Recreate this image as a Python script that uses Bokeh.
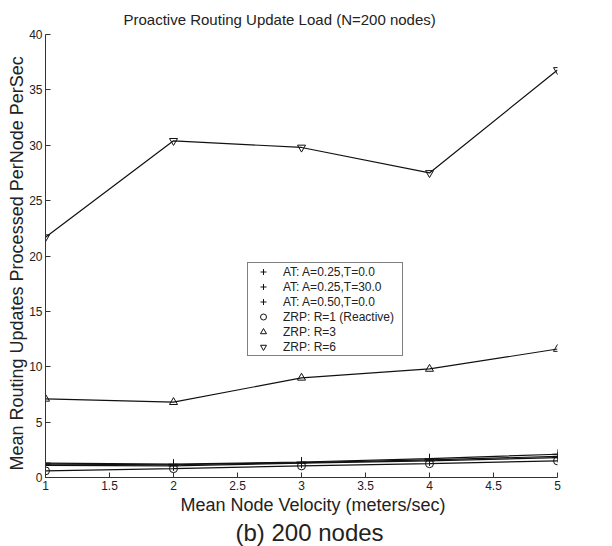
from bokeh.plotting import figure
from bokeh.models import Legend, LegendItem, Title, FixedTicker, Range1d
from bokeh.embed import file_html
from bokeh.resources import INLINE

velocity = [1, 2, 3, 4, 5]
at_025_t0 = [1.2, 1.15, 1.35, 1.6, 1.9]
at_025_t30 = [1.1, 1.05, 1.3, 1.5, 1.8]
at_050_t0 = [1.3, 1.2, 1.4, 1.7, 2.1]
zrp_r1 = [0.6, 0.8, 1.05, 1.25, 1.5]
zrp_r3 = [7.1, 6.8, 9.0, 9.8, 11.6]
zrp_r6 = [21.7, 30.4, 29.8, 27.5, 36.8]

labels = ["AT: A=0.25,T=0.0", "AT: A=0.25,T=30.0", "AT: A=0.50,T=0.0",
          "ZRP: R=1 (Reactive)", "ZRP: R=3", "ZRP: R=6"]
series = [at_025_t0, at_025_t30, at_050_t0, zrp_r1, zrp_r3, zrp_r6]
markers = ["cross", "cross", "cross", "circle", "triangle", "inverted_triangle"]
x_ticks = [1, 1.5, 2, 2.5, 3, 3.5, 4, 4.5, 5]
y_ticks = [0, 5, 10, 15, 20, 25, 30, 35, 40]

FONT = "Liberation Sans"
TXT = "#222222"

p = figure(width=612, height=546, output_backend="svg", toolbar_location=None,
           x_range=Range1d(1, 5), y_range=Range1d(0, 40),
           min_border_left=45, min_border_right=55, min_border_top=34, min_border_bottom=10)
p.outline_line_color = None
p.grid.visible = False
p.background_fill_color = "white"

items = []
for ys, lab, mk in zip(series, labels, markers):
    p.line(velocity, ys, line_color="#111111", line_width=1.2)
    sz = 10 if mk == "cross" else 8
    r = p.scatter(velocity, ys, marker=mk, size=sz, line_color="#111111",
                  fill_color=None, line_width=1)
    items.append(LegendItem(label=lab, renderers=[r]))

legend = Legend(items=items, location=(202, 121), border_line_color="black",
                border_line_width=1, label_text_font=FONT, label_text_font_size="12px",
                label_text_color=TXT, label_width=118,
                label_height=15, glyph_height=15, glyph_width=28, spacing=0,
                padding=1, margin=0, label_standoff=6, background_fill_alpha=1)
p.add_layout(legend, "center")

p.title.text = "Proactive Routing Update Load (N=200 nodes)"
p.title.align = "left"
p.title.offset = 78
p.title.standoff = 14
p.title.text_font = FONT
p.title.text_font_style = "normal"
p.title.text_font_size = "15px"
p.title.text_color = TXT

xlab = Title(text="Mean Node Velocity (meters/sec)", align="left", offset=135, standoff=1,
             text_font=FONT, text_font_style="normal", text_font_size="18px", text_color=TXT)
p.add_layout(xlab, "below")
cap = Title(text="(b) 200 nodes", align="left", offset=190, standoff=2,
            text_font=FONT, text_font_style="normal", text_font_size="24px", text_color=TXT)
p.add_layout(cap, "below")
ylab = Title(text="Mean Routing Updates Processed PerNode PerSec", align="left", offset=7,
             standoff=0, text_font=FONT, text_font_style="normal", text_font_size="18px",
             text_color=TXT)
p.add_layout(ylab, "left")

p.xaxis.ticker = FixedTicker(ticks=x_ticks)
p.yaxis.ticker = FixedTicker(ticks=y_ticks)
for ax in (p.xaxis, p.yaxis):
    ax.major_label_text_font = FONT
    ax.major_label_text_font_size = "12px"
    ax.major_tick_in = 5
    ax.major_tick_out = 0
    ax.minor_tick_in = 0
    ax.minor_tick_out = 0
    ax.axis_line_color = "#333333"
    ax.major_tick_line_color = "#333333"
    ax.major_label_text_color = TXT
p.xaxis.major_label_standoff = 3
p.yaxis.major_label_standoff = 3

open("out.html", "w").write(file_html(p, INLINE))
